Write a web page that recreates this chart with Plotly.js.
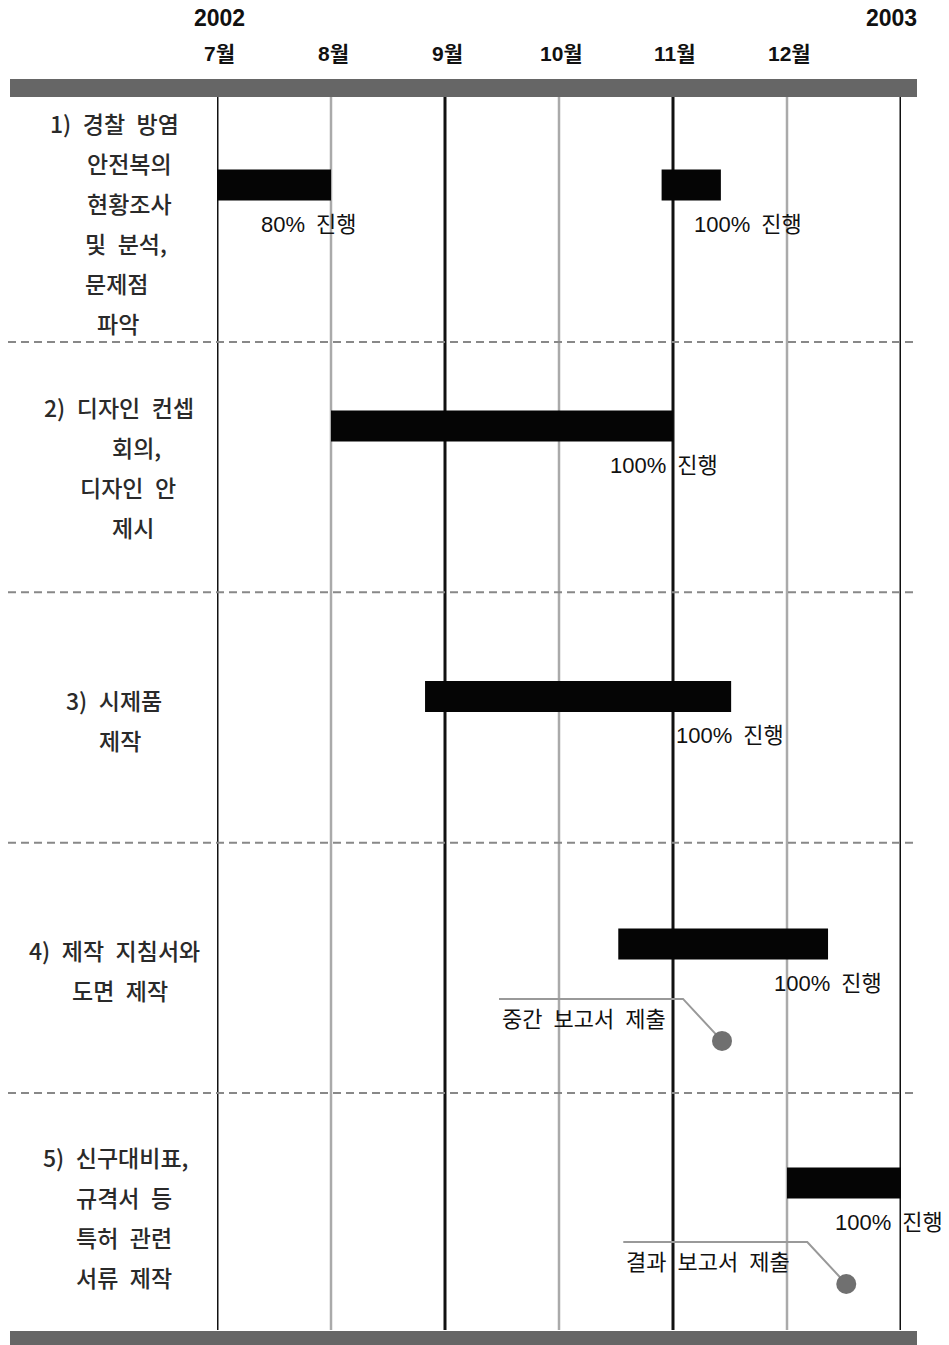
<!DOCTYPE html>
<html>
<head>
<meta charset="utf-8">
<script src="https://cdn.plot.ly/plotly-3.0.1.min.js"></script>
<style>html,body{margin:0;padding:0;background:#fff;}#chart{width:949px;height:1345px;}</style>
</head>
<body>
<div id="chart"></div>
<script>
// ---------- DATA ----------
const years = ['2002', '2003'];
const months = ['7월', '8월', '9월', '10월', '11월', '12월'];
const monthLines = [0, 1, 2, 3, 4, 5, 6];           // month boundaries (0 = 1 July 2002)
const taskLines = [
  ['1) 경찰 방염', '안전복의', '현황조사', '및 분석,', '문제점', '파악'],
  ['2) 디자인 컨셉', '회의,', '디자인 안', '제시'],
  ['3) 시제품', '제작'],
  ['4) 제작 지침서와', '도면 제작'],
  ['5) 신구대비표,', '규격서 등', '특허 관련', '서류 제작']
];
const barTask  = [0, 0, 1, 2, 3, 4];
const barStart = [0, 3.90, 1, 1.825, 3.52, 5];
const barEnd   = [1, 4.42, 4, 4.51, 5.36, 6];
const barLabel = ['80% 진행', '100% 진행', '100% 진행', '100% 진행', '100% 진행', '100% 진행'];
const milestoneName = ['중간 보고서 제출', '결과 보고서 제출'];
const milestoneTask = [3, 4];
const milestoneX    = [4.43, 5.52];

// ---------- LAYOUT HELPERS ----------
const W = 949, H = 1345;
const PX_PER_MONTH = 114, PX_PER_ROW = 250.33;
const X0 = 217, Y0 = 91.67;
const px = v => v / W;
const py = v => 1 - v / H;
const wide = s => s.replace(/ /g, '\u2002');   // wider word gaps as in the original typesetting
const barOffset = [0.373, 0.336, 0.416, 0.405, 0.360];
const barLabelX = [0.803, 4.662, 3.917, 4.500, 5.360, 5.895];
const milestoneOffset = [0.792, 0.763];
const labelCX = [[114,129.5,129,125.5,116.5,117.5],[119,136,127.5,132.5],[114,120],[114,120],[115.5,123.5,123.5,123.5]];
const labelTopY = [123, 407, 700, 950, 1157];
const LINE_GAP = 40;

const KFONT = "'Noto Sans CJK KR', sans-serif";
const LFONT = "'Liberation Sans', 'Noto Sans CJK KR', sans-serif";

const traces = [];
// bars
traces.push({
  type: 'bar', orientation: 'h',
  y: barTask.map(t => t + barOffset[t]),
  base: barStart,
  x: barEnd.map((e, i) => e - barStart[i]),
  width: 31 / PX_PER_ROW,
  marker: {color: '#050505', line: {width: 0}},
  hoverinfo: 'skip', showlegend: false
});
// milestone leaders and dots
milestoneX.forEach((mx, i) => {
  const my = milestoneTask[i] + milestoneOffset[i];
  const ly = my - 42 / PX_PER_ROW;
  traces.push({
    type: 'scatter', mode: 'lines',
    x: [mx - 223 / PX_PER_MONTH, mx - 39 / PX_PER_MONTH, mx],
    y: [ly, ly, my],
    line: {color: '#999', width: 2},
    hoverinfo: 'skip', showlegend: false, cliponaxis: false
  });
  traces.push({
    type: 'scatter', mode: 'markers',
    x: [mx], y: [my],
    marker: {color: '#707070', size: 20, line: {width: 0}},
    hoverinfo: 'skip', showlegend: false, cliponaxis: false
  });
});

const shapes = [];
// top and bottom gray bars
shapes.push({type: 'rect', xref: 'paper', yref: 'paper', x0: px(10), x1: px(917), y0: py(97), y1: py(79), fillcolor: '#666', line: {width: 0}, layer: 'below'});
shapes.push({type: 'rect', xref: 'paper', yref: 'paper', x0: px(10), x1: px(917), y0: py(1345), y1: py(1331), fillcolor: '#666', line: {width: 0}, layer: 'below'});
// month lines
monthLines.forEach((m, i) => {
  const dark = i % 2 === 0;
  shapes.push({type: 'line', xref: 'x', yref: 'paper', x0: m, x1: m, y0: py(1330), y1: py(97),
    line: {color: dark ? '#111' : '#aaa', width: dark ? 3 : 2.5}, layer: 'below'});
});
// dashed separators between tasks
for (let k = 1; k < taskLines.length; k++) {
  shapes.push({type: 'line', xref: 'paper', yref: 'y', x0: px(8), x1: px(917), y0: k, y1: k,
    line: {color: '#888', width: 2, dash: '8px,5px'}, layer: 'below'});
}

const annotations = [];
// years
annotations.push({xref: 'x', yref: 'paper', x: 0, y: py(18), text: years[0], showarrow: false, xanchor: 'center', yanchor: 'middle', xshift: 2,
  font: {family: LFONT, size: 23, color: '#111', weight: 'bold'}});
annotations.push({xref: 'x', yref: 'paper', x: 6, y: py(18), text: years[1], showarrow: false, xanchor: 'center', yanchor: 'middle', xshift: -10,
  font: {family: LFONT, size: 23, color: '#111', weight: 'bold'}});
// months
months.forEach((m, i) => {
  annotations.push({xref: 'x', yref: 'paper', x: monthLines[i], y: py(54), text: m, showarrow: false, xanchor: 'center', yanchor: 'middle', xshift: 2,
    font: {family: LFONT, size: 21, color: '#111', weight: 'bold'}});
});
// task labels
taskLines.forEach((lines, r) => {
  lines.forEach((t, j) => {
    annotations.push({xref: 'paper', yref: 'paper', x: px(labelCX[r][j]), y: py(labelTopY[r] + j * LINE_GAP), text: wide(t),
      showarrow: false, xanchor: 'center', yanchor: 'middle',
      font: {family: KFONT, size: 23, color: '#2a2a2a', weight: 500}});
  });
});
// bar progress labels
barLabel.forEach((t, i) => {
  const yc = barTask[i] + barOffset[barTask[i]] + (15.5 + 24) / PX_PER_ROW;
  annotations.push({xref: 'x', yref: 'y', x: barLabelX[i], y: yc, text: wide(t), showarrow: false, xanchor: 'center', yanchor: 'middle',
    font: {family: LFONT, size: 22, color: '#111'}});
});
// milestone labels
milestoneName.forEach((t, i) => {
  const my = milestoneTask[i] + milestoneOffset[i];
  annotations.push({xref: 'x', yref: 'y', x: milestoneX[i] - 222 / PX_PER_MONTH, y: my - 21 / PX_PER_ROW, text: wide(t), showarrow: false,
    xanchor: 'left', yanchor: 'middle', font: {family: LFONT, size: 22, color: '#111'}});
});

const layout = {
  width: W, height: H,
  margin: {l: 0, r: 0, t: 0, b: 0},
  paper_bgcolor: '#fff', plot_bgcolor: 'rgba(0,0,0,0)',
  showlegend: false, barmode: 'overlay',
  xaxis: {domain: [px(X0), px(X0 + 6 * PX_PER_MONTH)], range: [0, 6], showgrid: false, zeroline: false, showticklabels: false, showline: false, fixedrange: true},
  yaxis: {domain: [py(Y0 + 5 * PX_PER_ROW), py(Y0)], range: [5, 0], showgrid: false, zeroline: false, showticklabels: false, showline: false, fixedrange: true},
  shapes: shapes,
  annotations: annotations
};

Plotly.newPlot('chart', traces, layout, {staticPlot: true, displayModeBar: false});
</script>
</body>
</html>
